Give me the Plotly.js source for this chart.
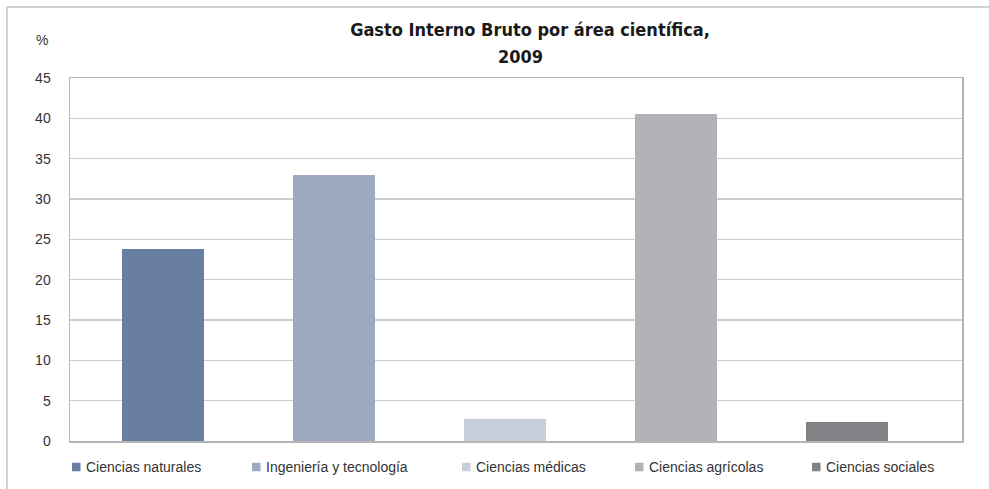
<!DOCTYPE html>
<html>
<head>
<meta charset="utf-8">
<script src="https://cdn.plot.ly/plotly-3.0.1.min.js"></script>
<style>html,body{margin:0;padding:0;background:#fff;}#chart{width:989px;height:489px;}</style>
</head>
<body>
<div id="chart"></div>
<script>
// ---- data ----
const categories = ["Ciencias naturales", "Ingeniería y tecnología", "Ciencias médicas", "Ciencias agrícolas", "Ciencias sociales"];
const values = [23.85, 33.0, 2.7, 40.5, 2.4];
const colors = ["#687fa3", "#9eaac2", "#c7cddb", "#b1b2b6", "#818285"];
const titleLine1 = "Gasto Interno Bruto por área científica,";
const titleLine2 = "2009";
const yUnit = "%";

// ---- layout geometry (pixels) ----
const W = 989, H = 489;
const L = 70, R = 962, T = 78, B = 441;
const px = x => (x - L) / (R - L);
const py = y => (B - y) / (B - T);

const legendSquareX = [72, 252, 462, 635, 812];
const legendY = 467;
const sq = 8.5;

const shapes = [];
const annotations = [];

// outer frame
shapes.push({type:'line', xref:'paper', yref:'paper', x0:px(7), x1:px(W+5), y0:py(7), y1:py(7), line:{color:'#c4c4c4', width:1.5}});
shapes.push({type:'line', xref:'paper', yref:'paper', x0:px(7), x1:px(7), y0:py(7), y1:py(H+5), line:{color:'#c4c4c4', width:1.5}});

// custom legend
categories.forEach((c, i) => {
  const x0 = legendSquareX[i];
  shapes.push({type:'rect', xref:'paper', yref:'paper', x0:px(x0), x1:px(x0+sq), y0:py(legendY-sq/2), y1:py(legendY+sq/2), fillcolor:colors[i], line:{width:0}});
  annotations.push({xref:'paper', yref:'paper', x:px(x0+sq+3), y:py(legendY), xanchor:'left', yanchor:'middle', text:c, showarrow:false, font:{family:'Liberation Sans, Arial, sans-serif', size:14, color:'#333333'}});
});

annotations.push({xref:'paper', yref:'paper', x:px(520), y:py(57), xanchor:'center', yanchor:'middle', text:'<b>'+titleLine2+'</b>', showarrow:false, font:{family:'Liberation Sans Narrow, DejaVu Sans Condensed, Arial Narrow, sans-serif', size:18, color:'#1a1a1a'}});
annotations.push({xref:'paper', yref:'paper', x:px(42), y:py(40), xanchor:'center', yanchor:'middle', text:yUnit, showarrow:false, font:{family:'Liberation Sans, Arial, sans-serif', size:14, color:'#333333'}});

const trace = {
  type:'bar', x:categories, y:values, width:0.48,
  marker:{color:colors, line:{width:0}}, showlegend:false, hoverinfo:'x+y'
};

const layout = {
  width:W, height:H,
  margin:{l:L, r:W-R, t:T, b:H-B, pad:0},
  paper_bgcolor:'#ffffff', plot_bgcolor:'#ffffff',
  title:{text:'<b>'+titleLine1+'</b>', x:px(530), xref:'paper', xanchor:'center', y:1-30/H, yanchor:'middle', yref:'container',
         font:{family:'Liberation Sans Narrow, DejaVu Sans Condensed, Arial Narrow, sans-serif', size:18, color:'#1a1a1a'}},
  xaxis:{type:'category', range:[-0.544, 4.673], showticklabels:false, ticks:'', showgrid:false, zeroline:false,
         showline:true, mirror:true, linecolor:'#b5b5b5', linewidth:1.5, fixedrange:true},
  yaxis:{range:[0,45], dtick:5, tick0:0, showgrid:true, gridcolor:'#cdcdcd', gridwidth:1.2, zeroline:false,
         showline:true, mirror:true, linecolor:'#b5b5b5', linewidth:1.5, ticks:'', ticklabelstandoff:15,
         tickfont:{family:'Liberation Sans, Arial, sans-serif', size:14, color:'#333333'}, fixedrange:true},
  shapes:shapes, annotations:annotations, showlegend:false, bargap:0
};

Plotly.newPlot('chart', [trace], layout, {displayModeBar:false, staticPlot:true});
</script>
</body>
</html>
